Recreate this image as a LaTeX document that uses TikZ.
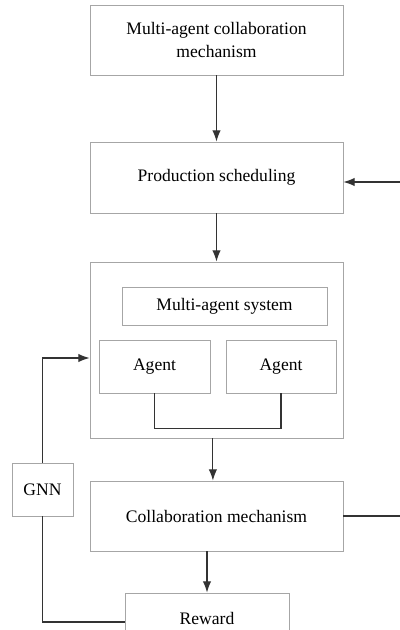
\documentclass[tikz,border=0pt]{standalone}
\usepackage{fontspec}
\setmainfont{Liberation Serif}
\usetikzlibrary{arrows.meta}
\begin{document}
\begin{tikzpicture}[x=0.025cm, y=-0.025cm,
  box/.style={draw=black!35, line width=0.6pt, inner sep=0pt, align=center,
    font=\fontsize{12.5}{17}\selectfont},
  link/.style={draw=black!80, line width=0.8pt},
  arr/.style={link, -{Latex[length=8pt,width=6pt]}}]

\useasboundingbox (0,0) rectangle (400,630);
\clip (0,0) rectangle (400,630);

% boxes
\node[box, minimum width=6.325cm, minimum height=1.75cm] (mech) at (216.5,40) {Multi-agent collaboration\\mechanism};
\node[box, minimum width=6.325cm, minimum height=1.775cm] (sched) at (216.5,177.5) {Production scheduling};
\node[box, minimum width=6.325cm, minimum height=4.4cm] (outer) at (216.5,350) {};
\node[box, minimum width=5.125cm, minimum height=0.95cm] (mas) at (224.5,306) {Multi-agent system};
\node[box, minimum width=2.775cm, minimum height=1.325cm] (agA) at (154.5,366.5) {Agent};
\node[box, minimum width=2.75cm, minimum height=1.325cm] (agB) at (281,366.5) {Agent};
\node[box, minimum width=6.325cm, minimum height=1.75cm] (collab) at (216.5,516) {Collaboration mechanism};
\node[box, minimum width=1.525cm, minimum height=1.325cm] (gnn) at (42.5,489.5) {GNN};
\node[box, minimum width=4.1cm, minimum height=1.25cm] (reward) at (207,618) {Reward};

% off-picture ends
\coordinate (rin) at (400,182);
\coordinate (rout) at (400,516);

% connectors
\draw[arr] (mech) -- (sched);
\draw[arr] (sched) -- (outer);
\draw[arr] ([xshift=-0.09cm]outer.south) -- ([xshift=-0.09cm]collab.north);
\draw[arr] (collab.south -| reward.north) -- (reward.north);
\draw[arr] (rin) -- (sched.east |- rin);
\draw[link] (collab.east) -- (rout);
\draw[link] (agA.south) -- ++(0,35) -| (agB.south);
\draw[link] ([yshift=-0.1cm]reward.west) -| (gnn.south);
\draw[arr] (gnn.north) |- ([yshift=-0.2cm]outer.west);

\end{tikzpicture}
\end{document}
